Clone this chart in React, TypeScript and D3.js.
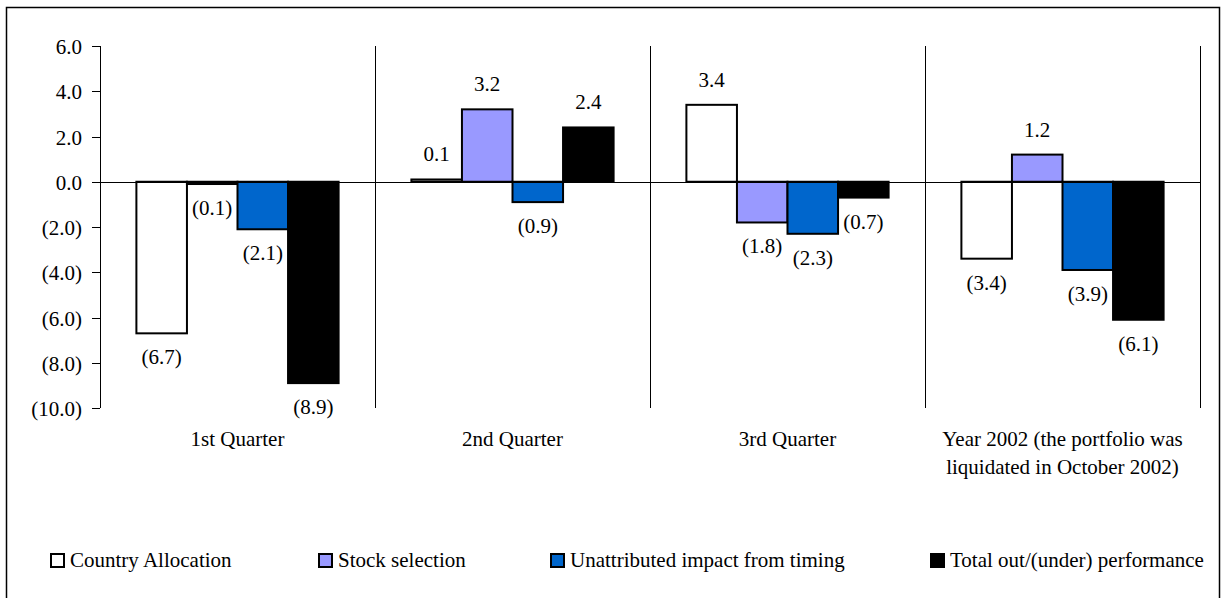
import React from "react";
import * as d3 from "d3";

const categories = [
  ["1st Quarter"],
  ["2nd Quarter"],
  ["3rd Quarter"],
  ["Year 2002 (the portfolio was", "liquidated in October 2002)"],
];
const seriesNames = [
  "Country Allocation",
  "Stock selection",
  "Unattributed impact from timing",
  "Total out/(under) performance",
];
const seriesColors = ["#FFFFFF", "#9999FF", "#0066CC", "#000000"];
const countryAllocation = [-6.7, 0.1, 3.4, -3.4];
const stockSelection = [-0.1, 3.2, -1.8, 1.2];
const unattributed = [-2.1, -0.9, -2.3, -3.9];
const totalPerf = [-8.9, 2.4, -0.7, -6.1];
const seriesValues = [countryAllocation, stockSelection, unattributed, totalPerf];
const yTicks = [6, 4, 2, 0, -2, -4, -6, -8, -10];
const legendX = [50, 318, 550, 930];

const W = 1223;
const H = 598;
const FONT = '"Liberation Serif", "Times New Roman", Times, serif';
const FS = 21;

const fmt = (v: number) =>
  v < 0 ? `(${Math.abs(v).toFixed(1)})` : v.toFixed(1);

export default function App() {
  const plotL = 100, plotR = 1200, plotT = 46, plotB = 408;
  const y = d3.scaleLinear().domain([-10, 6]).range([plotB, plotT]);
  const x0 = d3
    .scaleBand<number>()
    .domain(categories.map((_, i) => i))
    .range([plotL, plotR])
    .padding(0);
  const x1 = d3
    .scaleBand<number>()
    .domain(seriesNames.map((_, i) => i))
    .range([0, x0.bandwidth()])
    .paddingInner(0)
    .paddingOuter(0.72);
  const y0 = y(0);
  const ts = { fontFamily: FONT, fontSize: FS } as React.CSSProperties;

  return (
    <svg
      width={W}
      height={H}
      style={{ position: "absolute", left: 0, top: 0, background: "#fff" }}
    >
      <rect x={0} y={0} width={W} height={H} fill="#fff" />
      <rect x={6.5} y={7.5} width={1213} height={600} fill="none" stroke="#000" strokeWidth={1.5} />

      {/* separators */}
      {categories.map((_, i) => {
        const xx = Math.round((x0(i) as number) + x0.bandwidth()) + 0.5;
        return (
          <line key={"sep" + i} x1={xx} x2={xx} y1={plotT} y2={plotB} stroke="#000" strokeWidth={1} />
        );
      })}

      {/* bars */}
      {seriesValues.map((vals, s) =>
        vals.map((v, c) => {
          const bx = (x0(c) as number) + (x1(s) as number);
          const top = Math.min(y(v), y0);
          const h = Math.abs(y(v) - y0);
          return (
            <rect
              key={`b${s}-${c}`}
              x={bx}
              y={top}
              width={x1.bandwidth()}
              height={h}
              fill={seriesColors[s]}
              stroke="#000"
              strokeWidth={2}
            />
          );
        })
      )}

      {/* zero line */}
      <line x1={plotL - 8} x2={plotR} y1={Math.round(y0) + 0.5} y2={Math.round(y0) + 0.5} stroke="#000" strokeWidth={1} />

      {/* y axis */}
      <line x1={plotL + 0.5} x2={plotL + 0.5} y1={plotT} y2={plotB} stroke="#000" strokeWidth={1} />
      {yTicks.map((t) => {
        const yy = Math.round(y(t)) + 0.5;
        return (
          <g key={"t" + t}>
            <line x1={plotL - 8} x2={plotL} y1={yy} y2={yy} stroke="#000" strokeWidth={1} />
            <text x={82} y={yy + 7} textAnchor="end" fill="#000" style={ts}>
              {fmt(t)}
            </text>
          </g>
        );
      })}

      {/* value labels */}
      {seriesValues.map((vals, s) =>
        vals.map((v, c) => {
          const cx = (x0(c) as number) + (x1(s) as number) + x1.bandwidth() / 2;
          const ly = v >= 0 ? y(v) - 18 : y(v) + 31;
          return (
            <text key={`l${s}-${c}`} x={cx} y={ly} textAnchor="middle" fill="#000" style={ts}>
              {fmt(v)}
            </text>
          );
        })
      )}

      {/* category labels */}
      {categories.map((lines, i) => (
        <text
          key={"c" + i}
          x={(x0(i) as number) + x0.bandwidth() / 2}
          y={446}
          textAnchor="middle"
          fill="#000"
          style={ts}
        >
          {lines.map((ln, k) => (
            <tspan key={k} x={(x0(i) as number) + x0.bandwidth() / 2} dy={k === 0 ? 0 : 28}>
              {ln}
            </tspan>
          ))}
        </text>
      ))}

      {/* legend */}
      {seriesNames.map((n, i) => (
        <g key={"lg" + i}>
          <rect x={legendX[i] + 1} y={554} width={13} height={13} fill={seriesColors[i]} stroke="#000" strokeWidth={2} />
          <text x={legendX[i] + 20} y={567} fill="#000" style={ts}>
            {n}
          </text>
        </g>
      ))}
    </svg>
  );
}
